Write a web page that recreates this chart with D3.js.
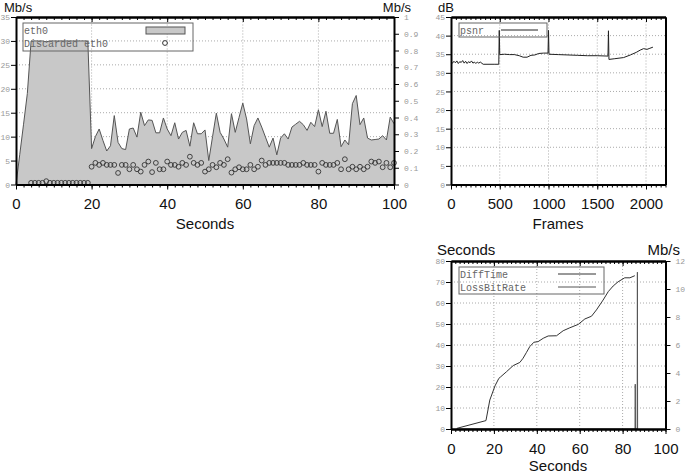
<!DOCTYPE html>
<html lang="en">
<head>
<meta charset="UTF-8">
<title>eth0 / psnr / DiffTime</title>
<script src="https://cdn.jsdelivr.net/npm/d3@7/dist/d3.min.js"></script>
<style>
  body { margin: 0; background: #fff; }
  .small .tick text { font-family: "Liberation Mono", "DejaVu Sans Mono", monospace; font-size: 8px; fill: #999; }
  .big .tick text { font-family: "Liberation Sans", Arial, sans-serif; font-size: 15px; fill: #111; }
  .domain { stroke: #000; stroke-width: 2; }
  .tick line { stroke: #000; }
  .title { font-family: "Liberation Sans", Arial, sans-serif; font-size: 15px; fill: #111; }
  .top { font-size: 13px; }
  .leg { font-family: "Liberation Mono", "DejaVu Sans Mono", monospace; font-size: 10px; fill: #666; }
  .grid line { stroke: #aaa; stroke-dasharray: 1,2; }
</style>
</head>
<body>
<svg id="chart" width="685" height="474"></svg>
<script>
// --- eth0 throughput, one value per second (0..100 s), Mb/s
var eth0Rate = [0, 6.3, 12.6, 19,
  30, 30, 30, 30, 29.8, 30, 30, 30, 30, 30, 30, 30, 30, 30, 30, 30,
  7.5, 10, 11.6, 9.2, 7.0, 8.1, 14.4, 8.8, 7.5, 7.3,
  11.6, 11.8, 9.9, 15.1, 12.3, 13.5, 13.4, 10.8, 10.8, 13.9,
  11.6, 10.2, 12.9, 9.5, 10.9, 11.3, 8.0, 12.9, 10.6, 10.6,
  11.4, 5.0, 10.0, 14.9, 10.9, 9.5, 7.8, 14.8, 10.9, 14.0,
  17.0, 13.7, 8.5, 12.3, 13.9, 12.0, 9.9, 7.8, 9.7, 6.2,
  9.7, 10.6, 9.5, 12.0, 12.6, 13.2, 12.5, 11.3, 13.0, 12.1,
  15.6, 12.1, 15.3, 10.7, 10.7, 13.6, 7.9, 9.3, 8.3, 16.9,
  18.6, 12.5, 13.9, 9.7, 9.3, 9.4, 9.5, 10.2, 9.3, 14.1, 12.7];

// --- discarded eth0, from second 4 to 100, right axis (0..1)
var discardStart = 4;
var discarded = [0.010, 0.010, 0.010, 0.010, 0.020, 0.010, 0.010, 0.010,
  0.010, 0.010, 0.010, 0.010, 0.010, 0.010, 0.010, 0.010,
  0.106, 0.129, 0.117, 0.129, 0.117, 0.117, 0.117, 0.069, 0.117, 0.117,
  0.091, 0.117, 0.091, 0.077, 0.117, 0.137, 0.074, 0.129, 0.091, 0.091,
  0.137, 0.117, 0.117, 0.106, 0.129, 0.117, 0.166, 0.129, 0.117, 0.129,
  0.077, 0.091, 0.117, 0.103, 0.129, 0.117, 0.151, 0.071, 0.091, 0.103,
  0.091, 0.091, 0.117, 0.091, 0.106, 0.143, 0.117, 0.129, 0.129, 0.129,
  0.129, 0.129, 0.117, 0.117, 0.117, 0.117, 0.129, 0.117, 0.117, 0.117,
  0.077, 0.129, 0.117, 0.117, 0.117, 0.129, 0.091, 0.151, 0.091, 0.106,
  0.091, 0.106, 0.091, 0.106, 0.137, 0.129, 0.137, 0.103, 0.129, 0.103, 0.129];

// --- psnr per frame, dB
var psnrFrames = [0, 15, 30, 45, 60, 75, 90, 105, 120, 135, 150, 165, 180, 195, 210, 225, 240, 255, 270, 285, 300,
  330, 400, 450, 490, 495, 500, 550, 600, 650, 700, 740, 780, 820, 860, 900, 950, 995, 1000, 1005,
  1100, 1200, 1300, 1400, 1500, 1610, 1615, 1620, 1680, 1770, 1840, 1900, 1940, 1975, 2010, 2040, 2071];
var psnrDb = [32.9, 32.6, 33.1, 32.7, 33.2, 32.5, 33.0, 32.8, 33.3, 32.6, 33.1, 32.5, 33.0, 32.7, 33.2, 32.6, 32.9, 32.5, 32.9, 32.6, 32.9,
  32.3, 32.3, 32.3, 32.3, 41.4, 34.9, 35.0, 34.9, 34.9, 34.6, 34.2, 34.2, 34.7, 34.8, 35.2, 35.3, 35.3, 41.4, 35.0,
  34.9, 34.8, 34.7, 34.6, 34.6, 34.5, 41.3, 33.6, 33.8, 34.1, 34.8, 35.5, 36.1, 36.5, 36.3, 36.6, 36.9];

// --- DiffTime (s) and LossBitRate (Mb/s) vs seconds
var diffSec = [2.7, 16.3, 18.1, 20.5, 22.3, 23, 25.9, 29, 32.1, 33.6, 35.2, 36.7, 38.6, 40.6, 43, 45.3, 49.2,
  52.3, 55.4, 59.3, 62.4, 65.5, 67.8, 70.9, 73.3, 75.6, 77.9, 81, 83.4, 85.7];
var diffTime = [0.3, 4.0, 13.8, 20.5, 24.1, 24.7, 27.3, 30.2, 31.7, 33.7, 36.5, 39.2, 41.3, 41.6, 43.2, 44.3, 44.4,
  46.8, 48.2, 49.8, 52.4, 53.7, 56.7, 61.4, 65.4, 68.1, 70.1, 72.0, 72.0, 73.0];
var lossSec = [2.7, 85.8, 85.9, 86.0, 86.8, 86.9, 87.0];
var lossRate = [0, 0, 3.2, 0, 0, 11.2, 0];

var svg = d3.select('#chart');

function grid(g, x, y, xs, ys) {
  var gg = g.append('g').attr('class', 'grid');
  gg.selectAll('.gx').data(xs).enter().append('line')
    .attr('x1', x).attr('x2', x).attr('y1', y.range()[0]).attr('y2', y.range()[1]);
  gg.selectAll('.gy').data(ys).enter().append('line')
    .attr('x1', x.range()[0]).attr('x2', x.range()[1]).attr('y1', y).attr('y2', y);
}

function frame(g, x, y, majors, minors) {
  var y0 = y.range()[0], y1 = y.range()[1];
  // top edge, ticks hanging inside
  g.append('g').attr('transform', 'translate(0,' + y1 + ')')
    .call(d3.axisBottom(x).tickValues(minors).tickSize(3).tickSizeOuter(0).tickFormat(''));
  g.append('g').attr('transform', 'translate(0,' + y1 + ')')
    .call(d3.axisBottom(x).tickValues(majors).tickSize(5).tickSizeOuter(0).tickFormat(''));
  // bottom edge
  g.append('g').attr('transform', 'translate(0,' + y0 + ')')
    .call(d3.axisBottom(x).tickValues(minors).tickSize(3).tickSizeOuter(0).tickFormat(''));
  g.append('g').attr('class', 'big').attr('transform', 'translate(0,' + y0 + ')')
    .call(d3.axisBottom(x).tickValues(majors).tickSize(5).tickSizeOuter(0).tickPadding(9).tickFormat(d3.format('d')));
}

function leftAxis(g, y, x0, vals) {
  g.append('g').attr('class', 'small').attr('transform', 'translate(' + x0 + ',0)')
    .call(d3.axisLeft(y).tickValues(vals).tickSize(5).tickSizeOuter(0).tickPadding(1));
}
function rightAxis(g, y, x1, vals, fmt) {
  var ax = d3.axisRight(y).tickSize(5).tickSizeOuter(0).tickPadding(5);
  if (vals) ax.tickValues(vals).tickFormat(fmt); else ax.tickValues([]);
  g.append('g').attr('class', 'small').attr('transform', 'translate(' + x1 + ',0)').call(ax);
}

// ================= chart 1 : eth0 =================
var g1 = svg.append('g');
var x1 = d3.scaleLinear().domain([0, 100]).range([16, 394]);
var y1 = d3.scaleLinear().domain([0, 35]).range([184.5, 17]);
var y1r = d3.scaleLinear().domain([0, 1]).range([184.5, 17]);

grid(g1, x1, y1, [20, 40, 60, 80], [5, 10, 15, 20, 25, 30]);

var area1 = d3.area().x(function (d, i) { return x1(i); }).y0(y1(0)).y1(function (d) { return y1(d); });
g1.append('path').datum(eth0Rate).attr('d', area1).attr('fill', '#c8c8c8').attr('stroke', 'none');
g1.append('path').datum(eth0Rate)
  .attr('d', d3.line().x(function (d, i) { return x1(i); }).y(function (d) { return y1(d); }))
  .attr('fill', 'none').attr('stroke', '#555').attr('stroke-width', 1);

g1.selectAll('.disc').data(discarded).enter().append('circle')
  .attr('cx', function (d, i) { return x1(i + discardStart); })
  .attr('cy', function (d) { return y1r(d); })
  .attr('r', 2.4).attr('fill', 'none').attr('stroke', '#333').attr('stroke-width', 0.9);

frame(g1, x1, y1, [0, 20, 40, 60, 80, 100], d3.range(0, 101, 2));
leftAxis(g1, y1, 16, [0, 5, 10, 15, 20, 25, 30, 35]);
rightAxis(g1, y1r, 394, d3.range(0, 1.01, 0.1), function (d) { return d === 0 ? '0' : d > 0.99 ? '1' : d3.format('.1f')(d); });

// legend 1
g1.append('rect').attr('x', 23).attr('y', 23).attr('width', 170).attr('height', 28)
  .attr('fill', 'none').attr('stroke', '#666');
g1.append('text').attr('class', 'leg').attr('x', 24).attr('y', 34).text('eth0');
g1.append('text').attr('class', 'leg').attr('x', 24).attr('y', 47).text('Discarded eth0');
g1.append('rect').attr('x', 146).attr('y', 27).attr('width', 39).attr('height', 7)
  .attr('fill', '#c8c8c8').attr('stroke', '#555');
g1.append('circle').attr('cx', 165).attr('cy', 43).attr('r', 2.4).attr('fill', 'none').attr('stroke', '#333');

g1.append('text').attr('class', 'title top').attr('x', 4).attr('y', 12).text('Mb/s');
g1.append('text').attr('class', 'title top').attr('x', 411).attr('y', 12).attr('text-anchor', 'end').text('Mb/s');
g1.append('text').attr('class', 'title').attr('x', 205).attr('y', 229).attr('text-anchor', 'middle').text('Seconds');

// ================= chart 2 : psnr =================
var g2 = svg.append('g');
var x2 = d3.scaleLinear().domain([0, 2200]).range([451, 665.5]);
var y2 = d3.scaleLinear().domain([0, 45]).range([184.5, 17]);

grid(g2, x2, y2, [500, 1000, 1500, 2000], [5, 10, 15, 20, 25, 30, 35, 40]);
g2.append('path').datum(psnrFrames)
  .attr('d', d3.line().x(function (d) { return x2(d); }).y(function (d, i) { return y2(psnrDb[i]); }))
  .attr('fill', 'none').attr('stroke', '#222').attr('stroke-width', 1);

frame(g2, x2, y2, [0, 500, 1000, 1500, 2000], d3.range(0, 2201, 50));
leftAxis(g2, y2, 451, [0, 5, 10, 15, 20, 25, 30, 35, 40, 45]);
rightAxis(g2, y2, 665.5, null);

g2.append('rect').attr('x', 459).attr('y', 23).attr('width', 88).attr('height', 14)
  .attr('fill', 'none').attr('stroke', '#666');
g2.append('text').attr('class', 'leg').attr('x', 460).attr('y', 33.5).text('psnr');
g2.append('line').attr('x1', 501).attr('x2', 538).attr('y1', 30).attr('y2', 30).attr('stroke', '#222');

g2.append('text').attr('class', 'title top').attr('x', 438).attr('y', 12).text('dB');
g2.append('text').attr('class', 'title').attr('x', 558).attr('y', 229).attr('text-anchor', 'middle').text('Frames');

// ================= chart 3 : DiffTime / LossBitRate =================
var g3 = svg.append('g');
var x3 = d3.scaleLinear().domain([0, 100]).range([451, 665.5]);
var y3 = d3.scaleLinear().domain([0, 80]).range([429, 261]);
var y3r = d3.scaleLinear().domain([0, 12]).range([429, 261]);

grid(g3, x3, y3, [20, 40, 60, 80], [10, 20, 30, 40, 50, 60, 70]);
g3.append('path').datum(diffSec)
  .attr('d', d3.line().x(function (d) { return x3(d); }).y(function (d, i) { return y3(diffTime[i]); }))
  .attr('fill', 'none').attr('stroke', '#333').attr('stroke-width', 1);
g3.append('path').datum(lossSec)
  .attr('d', d3.line().x(function (d) { return x3(d); }).y(function (d, i) { return y3r(lossRate[i]); }))
  .attr('fill', 'none').attr('stroke', '#555').attr('stroke-width', 1);

frame(g3, x3, y3, [0, 20, 40, 60, 80, 100], d3.range(0, 101, 2));
leftAxis(g3, y3, 451, [0, 10, 20, 30, 40, 50, 60, 70, 80]);
rightAxis(g3, y3r, 665.5, [0, 2, 4, 6, 8, 10, 12], d3.format('d'));

g3.append('rect').attr('x', 459).attr('y', 267).attr('width', 145).attr('height', 27)
  .attr('fill', 'none').attr('stroke', '#666');
g3.append('text').attr('class', 'leg').attr('x', 460).attr('y', 278).text('DiffTime');
g3.append('text').attr('class', 'leg').attr('x', 460).attr('y', 291).text('LossBitRate');
g3.append('line').attr('x1', 558).attr('x2', 596).attr('y1', 274).attr('y2', 274).attr('stroke', '#333');
g3.append('line').attr('x1', 558).attr('x2', 596).attr('y1', 287).attr('y2', 287).attr('stroke', '#555');

g3.append('text').attr('class', 'title').attr('x', 437).attr('y', 255).text('Seconds');
g3.append('text').attr('class', 'title').attr('x', 680).attr('y', 255).attr('text-anchor', 'end').text('Mb/s');
g3.append('text').attr('class', 'title').attr('x', 558).attr('y', 471).attr('text-anchor', 'middle').text('Seconds');
</script>
</body>
</html>
